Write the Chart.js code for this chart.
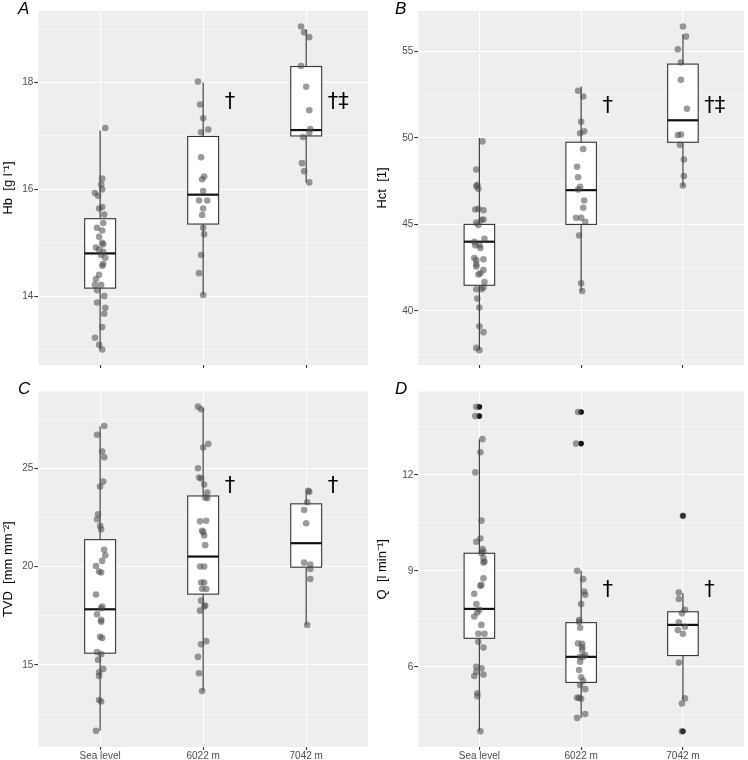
<!DOCTYPE html>
<html>
<head>
<meta charset="utf-8">
<script src="https://cdn.jsdelivr.net/npm/chart.js@4.4.1/dist/chart.umd.min.js"></script>
<style>
  body { margin: 0; background: #fff; width: 748px; height: 760px; position: relative; overflow: hidden; }
  canvas { position: absolute; }
  .tag { position: absolute; font-family: "Liberation Sans", Arial, sans-serif; font-style: italic; font-size: 17px; line-height: 17px; color: #000; }
</style>
</head>
<body>
<canvas id="pA" style="left:0;top:0" width="374" height="372"></canvas>
<canvas id="pB" style="left:374px;top:0" width="374" height="372"></canvas>
<canvas id="pC" style="left:0;top:372px" width="374" height="388"></canvas>
<canvas id="pD" style="left:374px;top:372px" width="374" height="388"></canvas>
<div class="tag" style="left:18px;top:0px">A</div>
<div class="tag" style="left:395px;top:0px">B</div>
<div class="tag" style="left:18px;top:380px">C</div>
<div class="tag" style="left:395px;top:380px">D</div>
<script>
// ── Data ─────────────────────────────────────────────
const groups = ['Sea level', '6022 m', '7042 m'];

// points are [jitter offset, value]; box rows are [low, q1, median, q3, high]
// A – Hb
const hbSea = [[0.05,17.15],[0.02,16.2],[0.01,16.09],[0.02,16.0],[-0.05,15.93],[-0.02,15.88],[-0.01,15.64],[0.02,15.67],[0.04,15.53],[0.03,15.37],[-0.03,15.28],[0.02,15.23],[-0.01,15.11],[0.02,15.0],[0.03,14.97],[-0.04,14.91],[-0.01,14.87],[0.03,14.83],[0.01,14.77],[0.05,14.72],[0.03,14.6],[0.02,14.57],[-0.01,14.4],[-0.04,14.32],[-0.05,14.21],[0.01,14.21],[-0.03,14.11],[0.04,14.0],[-0.03,13.88],[0.05,13.78],[0.04,13.67],[0.02,13.42],[-0.05,13.22],[-0.01,13.09],[0.02,13.0]];
const hb6022 = [[-0.05,18.02],[-0.03,17.59],[0,17.33],[0.05,17.12],[-0.02,17.07],[-0.02,16.6],[0.01,16.24],[-0.01,16.19],[0,15.97],[-0.04,15.79],[0.04,15.79],[0,15.64],[-0.01,15.52],[0,15.28],[0.01,15.16],[-0.02,14.77],[-0.04,14.43],[0,14.02]];
const hb7042 = [[-0.05,19.05],[-0.02,18.94],[0.03,18.85],[-0.05,18.31],[0,17.92],[0.03,17.48],[0.04,17.13],[0.03,17.06],[-0.03,16.98],[-0.04,16.49],[-0.02,16.34],[0.03,16.13]];
const hbBox = [[13.0,14.15,14.8,15.45,17.1],[14.02,15.35,15.9,16.99,18.0],[16.13,17.0,17.11,18.3,19.0]];
const hbOut = [[], [], []];
const hbTicks = [13,14,15,16,17,18,19];
const hbLabels = [14,16,18];
const hbMarks = ['', '†', '†‡'];

// B – Hct
const hctSea = [[0.03,49.8],[-0.03,48.17],[-0.02,47.29],[-0.03,47.2],[-0.01,47.06],[-0.04,45.86],[-0.01,45.9],[0.04,45.82],[-0.03,45.1],[0.02,45.25],[0.04,45.28],[-0.01,44.96],[0.05,44.17],[-0.05,44.0],[-0.04,43.79],[0,43.8],[0.01,43.63],[-0.05,43.06],[-0.03,42.92],[0.04,42.98],[-0.03,42.69],[-0.03,42.56],[0.04,42.36],[0.01,42.17],[-0.01,42.1],[0.05,41.67],[-0.03,41.25],[0.02,41.25],[0.04,41.35],[-0.02,40.71],[0,40.19],[0,39.11],[0.04,38.77],[-0.03,37.86],[0,37.73]];
const hct6022 = [[-0.03,52.73],[0.02,52.4],[0,50.94],[-0.01,50.27],[0.03,50.38],[0.02,49.36],[-0.04,48.33],[-0.03,47.73],[-0.01,47.17],[-0.03,47.02],[0.03,46.38],[0.02,45.96],[-0.05,45.38],[0,45.38],[0.04,45.15],[-0.02,44.36],[0,41.6],[0.01,41.15]];
const hct7042 = [[0,56.44],[0.03,55.86],[-0.05,55.13],[-0.02,54.36],[-0.02,53.36],[0.04,51.69],[-0.05,50.17],[-0.02,50.2],[-0.03,49.6],[0.01,48.75],[0.01,47.8],[0,47.25]];
const hctBox = [[37.74,41.48,44.0,45.0,50.0],[41.15,45.0,46.98,49.75,52.98],[47.2,49.75,51.02,54.27,56.0]];
const hctOut = [[], [], []];
const hctTicks = [37.5,40,42.5,45,47.5,50,52.5,55];
const hctLabels = [40,45,50,55];
const hctMarks = ['', '†', '†‡'];

// C – TVD
const tvdSea = [[0.04,27.15],[-0.03,26.7],[0.02,25.85],[0.04,25.56],[0.03,24.32],[0,24.07],[-0.02,22.66],[-0.03,22.41],[0,22.07],[0.01,21.9],[0.04,20.85],[0.05,20.58],[0.02,20.29],[-0.04,20.03],[-0.01,19.75],[0.01,19.7],[-0.04,18.58],[0.02,17.97],[0.01,17.88],[-0.03,17.58],[0.01,17.29],[0.01,17.2],[0,16.43],[0.02,16.37],[-0.03,15.66],[0.01,15.55],[-0.02,15.26],[0.03,14.8],[-0.01,14.63],[-0.01,14.44],[-0.01,13.22],[0.01,13.14],[-0.04,11.65]];
const tvd6022 = [[-0.05,28.13],[-0.02,28.0],[0.05,26.24],[0,26.05],[-0.05,25.0],[-0.04,24.53],[-0.02,24.48],[0.01,24.17],[0.04,23.76],[0.02,23.51],[0.04,23.48],[-0.03,22.3],[0.03,22.33],[-0.01,21.82],[0,21.75],[0.01,21.58],[0.02,21.09],[-0.03,20.0],[0.01,20.0],[-0.02,19.19],[0.01,19.19],[-0.01,18.87],[0.03,18.86],[-0.02,18.27],[0.02,18.02],[0.01,17.97],[-0.03,17.76],[0.03,16.21],[-0.02,16.05],[-0.05,15.41],[-0.04,14.58],[-0.01,13.68]];
const tvd7042 = [[0.02,23.85],[0.03,23.8],[0.01,23.27],[-0.02,22.88],[0,22.2],[-0.02,20.2],[0.04,20.1],[0.04,19.88],[0.04,19.37],[0.01,17.03]];
const tvdBox = [[11.66,15.6,17.83,21.37,27.12],[13.68,18.6,20.51,23.59,28.05],[17.03,19.97,21.19,23.19,23.81]];
const tvdOut = [[], [], []];
const tvdTicks = [12.5,15,17.5,20,22.5,25,27.5];
const tvdLabels = [15,20,25];
const tvdMarks = ['', '†', '†'];

// D – Q
const qSea = [[-0.03,14.13],[-0.04,13.84],[0.03,13.12],[0.01,12.71],[-0.04,12.08],[0.02,10.57],[0.01,10.01],[-0.03,9.91],[0.03,9.68],[0.04,9.6],[0.02,9.55],[0.04,9.4],[0.05,9.29],[0.04,9.26],[0.04,8.77],[0.02,8.56],[0.01,8.53],[-0.05,8.28],[-0.03,7.96],[0,7.78],[-0.02,7.7],[-0.05,7.57],[0.02,7.31],[-0.01,7.03],[0.05,7.03],[-0.01,6.78],[0.04,6.6],[-0.03,6.0],[0.02,5.95],[-0.03,5.84],[0.04,5.76],[-0.05,5.71],[-0.02,5.17],[-0.02,5.08],[0.01,3.98]];
const q6022 = [[-0.03,13.97],[-0.05,12.98],[-0.04,9.0],[0.02,8.74],[0.03,8.35],[0.04,8.25],[0,7.96],[-0.02,7.46],[-0.02,7.4],[-0.01,7.22],[-0.03,6.73],[0.01,6.72],[0.01,6.61],[0.01,6.52],[0.04,6.37],[-0.01,6.31],[0.02,6.31],[-0.01,6.16],[-0.02,5.9],[0,5.67],[0.02,5.56],[-0.01,5.43],[0.04,5.3],[-0.04,5.03],[-0.02,5.03],[0,5.0],[0.04,4.52],[-0.04,4.4]];
const q7042 = [[0,10.72],[-0.04,8.32],[-0.04,8.12],[0.02,7.78],[-0.01,7.67],[-0.04,7.39],[0.02,7.25],[-0.05,7.15],[0,7.03],[-0.04,6.13],[0.02,5.01],[-0.01,4.85],[-0.01,3.98]];
const qBox = [[3.98,6.89,7.81,9.55,13.11],[4.4,5.51,6.31,7.38,9.0],[4.96,6.35,7.31,7.72,8.3]];
const qOut = [[14.13,13.84],[13.97,12.98],[10.72,3.98]];
const qTicks = [4.5,6,7.5,9,10.5,12,13.5];
const qLabels = [6,9,12];
const qMarks = ['', '†', '†'];

// ── Plugins ──────────────────────────────────────────
const panelBg = {
  id: 'panelBg',
  beforeDraw(chart) {
    const { ctx, chartArea: a } = chart;
    ctx.save();
    ctx.fillStyle = '#EEEEF0';
    ctx.fillRect(a.left, a.top, a.right - a.left, a.bottom - a.top);
    ctx.restore();
  }
};

const boxes = {
  id: 'boxes',
  beforeDatasetsDraw(chart, args, opts) {
    const { ctx } = chart;
    const x = chart.scales.x, y = chart.scales.y;
    ctx.save();
    ctx.strokeStyle = '#333';
    opts.stats.forEach((s, i) => {
      const cx = x.getPixelForValue(i + 1);
      const l = x.getPixelForValue(i + 1 - 0.15), r = x.getPixelForValue(i + 1 + 0.15);
      const [lo, q1, md, q3, hi] = s.map(v => y.getPixelForValue(v));
      ctx.lineWidth = 1.1;
      ctx.beginPath();
      ctx.moveTo(cx, lo); ctx.lineTo(cx, q1);
      ctx.moveTo(cx, q3); ctx.lineTo(cx, hi);
      ctx.stroke();
      ctx.fillStyle = '#fff';
      ctx.fillRect(l, q3, r - l, q1 - q3);
      ctx.strokeRect(l, q3, r - l, q1 - q3);
      ctx.lineWidth = 2.2;
      ctx.strokeStyle = '#111';
      ctx.beginPath();
      ctx.moveTo(l, md); ctx.lineTo(r, md);
      ctx.stroke();
      ctx.strokeStyle = '#333';
    });
    ctx.restore();
  },
  afterDatasetsDraw(chart, args, opts) {
    const { ctx } = chart;
    const x = chart.scales.x, y = chart.scales.y;
    ctx.save();
    ctx.fillStyle = '#000';
    ctx.font = '21px "DejaVu Sans"';
    ctx.textBaseline = 'middle';
    ctx.textAlign = 'left';
    opts.marks.forEach((m, i) => {
      if (m) ctx.fillText(m, x.getPixelForValue(i + 1 + 0.21), y.getPixelForValue(opts.markY));
    });
    ctx.restore();
  }
};

// ── Panel builder ────────────────────────────────────
function panel(id, o) {
  const isMajor = v => o.labels.includes(v);
  return new Chart(document.getElementById(id), {
    type: 'scatter',
    data: {
      datasets: [
        {
          data: o.points.flatMap((g, i) => g.map(p => ({ x: i + 1 + p[0], y: p[1] }))),
          backgroundColor: 'rgba(72,72,72,0.55)',
          borderWidth: 0,
          pointRadius: 3.3,
          order: 1
        },
        {
          data: o.outliers.flatMap((g, i) => g.map(v => ({ x: i + 1, y: v }))),
          backgroundColor: '#111',
          borderWidth: 0,
          pointRadius: 2.8,
          order: 2
        }
      ]
    },
    options: {
      animation: false, responsive: false,
      events: [],
      layout: { padding: { left: 0, right: o.right, top: o.top, bottom: 0 } },
      plugins: {
        legend: { display: false }, tooltip: { enabled: false },
        boxes: { stats: o.stats, marks: o.marks, markY: o.markY }
      },
      scales: {
        x: {
          type: 'linear', min: 0.4, max: 3.6,
          afterBuildTicks: s => { s.ticks = groups.map((_, i) => ({ value: i + 1 })); },
          afterFit: s => { s.height = o.xh; },
          border: { display: false },
          grid: { color: '#fff', lineWidth: 1.1, tickColor: '#333', tickLength: 3 },
          ticks: {
            padding: 0, color: '#4D4D4D', font: { family: 'Liberation Sans', size: 10 },
            callback: v => o.showX ? groups[v - 1] : ''
          }
        },
        y: {
          min: o.min, max: o.max,
          afterBuildTicks: s => { s.ticks = o.ticks.map(v => ({ value: v })); },
          afterFit: s => { s.width = o.yw; },
          border: { display: false },
          grid: {
            color: '#fff',
            lineWidth: c => c.tick && isMajor(c.tick.value) ? 1.1 : 0.55,
            tickColor: c => c.tick && isMajor(c.tick.value) ? '#333' : 'rgba(0,0,0,0)',
            tickLength: 4
          },
          ticks: {
            padding: 1, color: '#4D4D4D', font: { family: 'Liberation Sans', size: 10 },
            callback: v => isMajor(v) ? String(v) : ''
          },
          title: {
            display: true, text: o.title, color: '#000',
            font: { family: 'Liberation Sans', size: 13 },
            padding: { top: 1, bottom: 0 }
          }
        }
      }
    },
    plugins: [panelBg, boxes]
  });
}

panel('pA', { points: [hbSea, hb6022, hb7042], outliers: hbOut, stats: hbBox, ticks: hbTicks, labels: hbLabels,
  marks: hbMarks, markY: 17.63, min: 12.71, max: 19.34, title: 'Hb  [g l⁻¹]', yw: 38.3, right: 6, top: 11, xh: 5, showX: false });
panel('pB', { points: [hctSea, hct6022, hct7042], outliers: hctOut, stats: hctBox, ticks: hctTicks, labels: hctLabels,
  marks: hctMarks, markY: 51.8, min: 36.87, max: 57.34, title: 'Hct  [1]', yw: 44.3, right: 0, top: 11, xh: 5, showX: false });
panel('pC', { points: [tvdSea, tvd6022, tvd7042], outliers: tvdOut, stats: tvdBox, ticks: tvdTicks, labels: tvdLabels,
  marks: tvdMarks, markY: 24.05, min: 10.83, max: 28.9, title: 'TVD  [mm mm⁻²]', yw: 38.3, right: 6, top: 19.5, xh: 13, showX: true });
panel('pD', { points: [qSea, q6022, q7042], outliers: qOut, stats: qBox, ticks: qTicks, labels: qLabels,
  marks: qMarks, markY: 8.37, min: 3.49, max: 14.61, title: 'Q  [l min⁻¹]', yw: 44.3, right: 0, top: 19.5, xh: 13, showX: true });
</script>
</body>
</html>
